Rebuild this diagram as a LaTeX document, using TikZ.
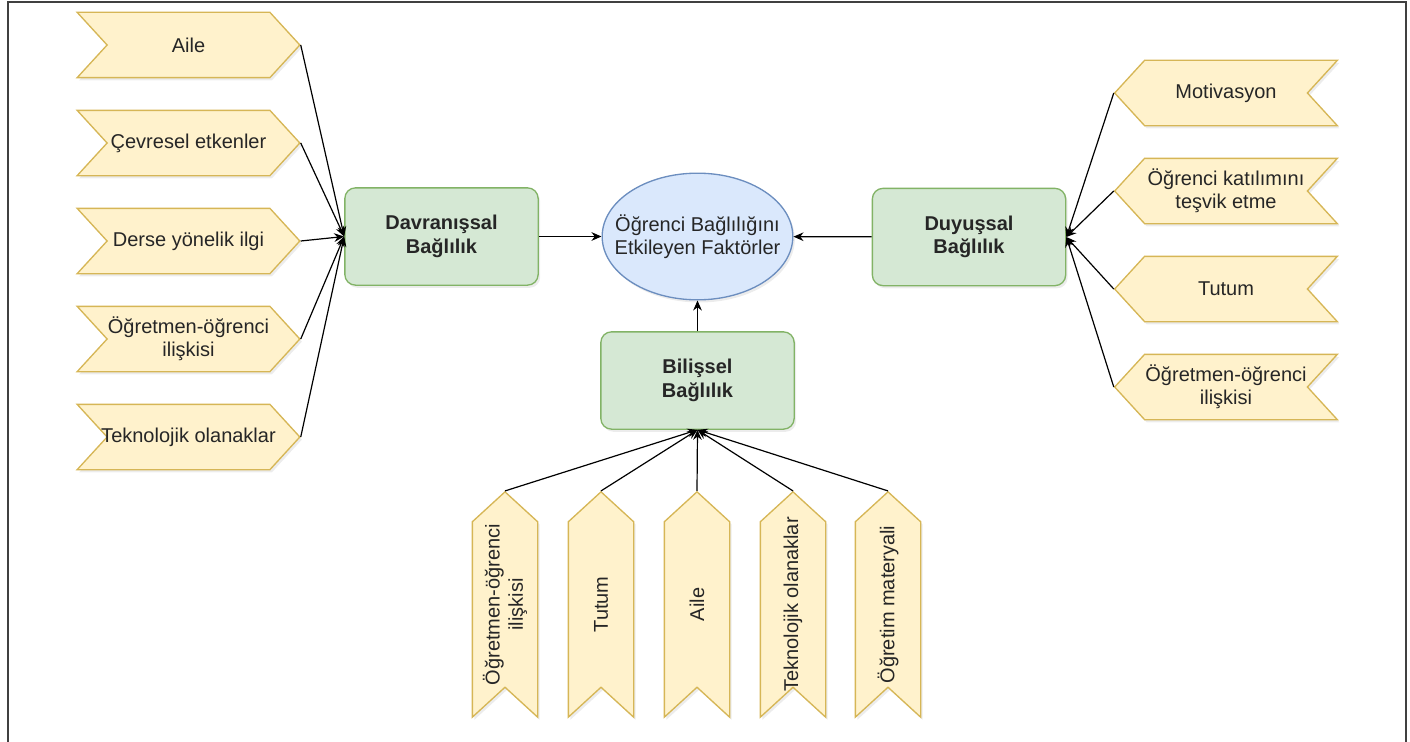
\documentclass[tikz,border=0pt]{standalone}
\usepackage{fontspec}
\setmainfont{Liberation Sans}
\usepackage{tikz}
\usetikzlibrary{positioning,shapes.symbols,shapes.geometric,shadows,arrows.meta}

\definecolor{chevfill}{HTML}{FFF2CC}
\definecolor{chevline}{HTML}{D6B656}
\definecolor{boxfill}{HTML}{D5E8D4}
\definecolor{boxline}{HTML}{82B366}
\definecolor{ovalfill}{HTML}{DAE8FC}
\definecolor{ovalline}{HTML}{6C8EBF}

\begin{document}
\begin{tikzpicture}[
        x=0.75pt, y=-0.75pt,
        ->,
        >={Stealth[length=7.5pt,width=6.5pt]},
        line width=0.9pt,
        node distance=23.5pt,
        font=\fontsize{15}{17.5}\selectfont,
        every node/.style={text=black!85, align=center},
        shade/.style={drop shadow={shadow xshift=1.5pt, shadow yshift=-2pt, opacity=0.15}},
        chev/.style={shape=signal, signal pointer angle=95, fill=chevfill, draw=chevline, line width=1pt,
            inner xsep=-10pt, shade},
        lchev/.style={chev, signal to=east, signal from=west, minimum width=167pt, minimum height=49pt},
        rchev/.style={chev, signal to=west, signal from=east, minimum width=167pt, minimum height=49pt},
        bchev/.style={chev, signal to=east, signal from=west, minimum width=169pt, minimum height=49pt, rotate=90},
        factor/.style={rectangle, rounded corners=8pt, fill=boxfill, draw=boxline, line width=1pt,
            minimum width=145pt, minimum height=73pt, font=\fontsize{15}{17.5}\selectfont\bfseries, shade},
        goal/.style={ellipse, fill=ovalfill, draw=ovalline, line width=1pt,
            minimum width=143pt, minimum height=95pt, inner xsep=-17pt, inner ysep=0pt, shade}
    ]
    \useasboundingbox (0,0) rectangle (1410,742);
    \draw[-, black!75, line width=1.5pt] (8,742) -- (8,2) -- (1406,2) -- (1406,742);

    % orta
    \node[goal] (E) at (697.5,236.5) {Öğrenci Bağlılığını\\Etkileyen Faktörler};
    \node[factor] (D) at (441.5,236.5) {Davranışsal\\Bağlılık};
    \node[factor] (U) at (969,237) {Duyuşsal\\Bağlılık};
    \node[factor] (B) at (697.5,380.5) {Bilişsel\\Bağlılık};

    % sol
    \node[lchev] (L1) at (188.5,45) {Aile};
    \node[lchev] (L2) [below=of L1] {Çevresel etkenler};
    \node[lchev] (L3) [below=of L2] {Derse yönelik ilgi};
    \node[lchev] (L4) [below=of L3] {Öğretmen-öğrenci\\ilişkisi};
    \node[lchev] (L5) [below=of L4] {Teknolojik olanaklar};

    % sag
    \node[rchev] (R1) at (1226,93) {Motivasyon};
    \node[rchev] (R2) [below=of R1] {Öğrenci katılımını\\teşvik etme};
    \node[rchev] (R3) [below=of R2] {Tutum};
    \node[rchev] (R4) [below=of R3] {Öğretmen-öğrenci\\ilişkisi};

    % alt (dondurulmus)
    \node[bchev] (B1) at (505,604.5) {Öğretmen-öğrenci\\ilişkisi};
    \node[bchev] (B2) at (601,604.5) {Tutum};
    \node[bchev] (B3) at (697,604.5) {Aile};
    \node[bchev] (B4) at (793,604.5) {Teknolojik olanaklar};
    \node[bchev] (B5) at (888,604.5) {Öğretim materyali};

    \path (D) edge (E)
        (U) edge (E)
        (B) edge (E);

    \foreach \i in {1,...,5}
        \draw (L\i.east) -- (D.west);
    \foreach \i in {1,...,4}
        \draw (R\i.west) -- (U.east);
    \foreach \i in {1,...,5}
        \draw (B\i.east) -- (B.south);
\end{tikzpicture}
\end{document}
